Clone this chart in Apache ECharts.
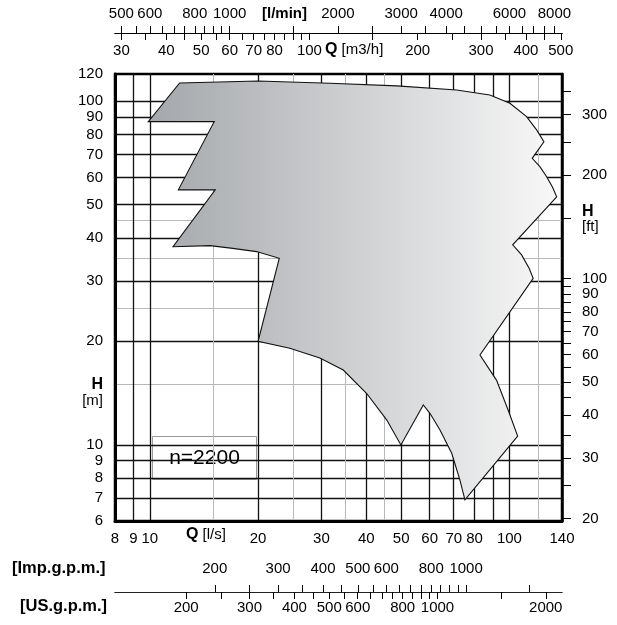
<!DOCTYPE html>
<html><head><meta charset="utf-8">
<script src="https://cdn.jsdelivr.net/npm/echarts@6/dist/echarts.min.js"></script>
<style>html,body{margin:0;padding:0;background:#fff}#c{width:617px;height:625px}</style>
</head><body><div id="c"></div>
<script>
// ---- data: pump performance range outline (Q in l/s, H in m) ----
const shapeQ = [12.1, 20.0, 31.7, 48.6, 71.3, 88.2, 100.3, 111.6, 119.0, 124.7,
  115.7, 121.5, 126.9, 131.8, 135.3, 102.1, 108.1, 113.5, 116.4, 82.8,
  92.1, 99.2, 105.4, 75.2, 72.8, 69.1, 64.1, 60.1, 57.6, 49.9,
  45.6, 40.1, 34.5, 29.7, 24.5, 20.0, 22.9, 19.8, 17.0, 14.7,
  11.6, 15.2, 12.0, 15.1, 9.9];
const shapeH = [113, 114.5, 112.8, 110.8, 107.8, 104.3, 98.6, 90.2, 82.5, 76.2,
  68.2, 64.5, 60.3, 56.2, 52.7, 38.2, 35.7, 32.6, 30.5, 18.25,
  15.4, 12.6, 10.6, 6.91, 7.9, 9.45, 11.04, 12.35, 13.06, 9.99,
  11.8, 14.1, 16.5, 17.9, 19.1, 20.0, 34.9, 36.5, 37.3, 38.0,
  37.7, 55.2, 55.2, 87.2, 87.2];
const speedLabel = 'n=2200';

// ---- axes ----
const qMin = 8, qMax = 140;       // l/s
const hMin = 6, hMax = 120;       // m
const LMIN_PER_LS = 60, M3H_PER_LS = 3.6, IMP_PER_LS = 13.198, US_PER_LS = 15.850, M_PER_FT = 0.3048;

const qLsLabels = [8, 9, 10, 20, 30, 40, 50, 60, 70, 80, 100, 140];
const qLsMajor  = [9, 10, 20, 30, 40, 50, 60, 70, 80, 90, 100];
const qLsMinor  = [15, 25, 35, 45, 120];
const hMLabels  = [6, 7, 8, 9, 10, 20, 30, 40, 50, 60, 70, 80, 90, 100, 120];
const hMMajor   = [7, 8, 9, 10, 20, 30, 40, 50, 60, 70, 80, 90, 100];
const hMMinor   = [15, 25, 35, 45];
const hFtLabels = [20, 30, 40, 50, 60, 70, 80, 90, 100, 200, 300];
const hFtTicks  = [20, 25, 30, 35, 40, 45, 50, 55, 60, 65, 70, 75, 80, 85, 90, 95, 100, 150, 200, 250, 300, 350];
const lminLabels = [500, 600, 800, 1000, 2000, 3000, 4000, 6000, 8000];
const lminTicks  = [500, 550, 600, 650, 700, 750, 800, 850, 900, 950, 1000, 1500, 2000, 2500, 3000, 3500, 4000, 4500, 5000, 5500, 6000, 6500, 7000, 7500, 8000];
const m3hLabels  = [30, 40, 50, 60, 70, 80, 100, 200, 300, 400, 500];
const m3hTicks   = [30, 35, 40, 45, 50, 55, 60, 65, 70, 75, 80, 85, 90, 95, 100, 150, 200, 250, 300, 350, 400, 450, 500];
const impLabels  = [200, 300, 400, 500, 600, 800, 1000];
const impTicks   = [200, 250, 300, 350, 400, 450, 500, 550, 600, 650, 700, 750, 800, 850, 900, 950, 1000, 1500];
const usLabels   = [200, 300, 400, 500, 600, 800, 1000, 2000];
const usTicks    = [200, 250, 300, 350, 400, 450, 500, 550, 600, 650, 700, 750, 800, 850, 900, 950, 1000, 1500, 2000];

const FONT = 'Liberation Sans, Arial, sans-serif';
const FS = 15;
const BLACK = '#000';
const GRID_DARK = '#111';
const GRAY = '#b8b8b8';
const plain = v => String(Math.round(v));
const lbl = (extra) => Object.assign({fontFamily: FONT, fontSize: FS, color: BLACK, formatter: plain}, extra || {});
const hidden = {axisLine: {show: false}, axisLabel: {show: false}};

const chart = echarts.init(document.getElementById('c'), null, {renderer: 'canvas'});
const option = {
  animation: false,
  backgroundColor: '#fff',
  grid: [{left: 115, top: 74, width: 447, height: 447, show: true, borderColor: BLACK, borderWidth: 2.5, backgroundColor: 'transparent'}],
  xAxis: [
    { // l/s main
      type: 'log', gridIndex: 0, min: qMin, max: qMax, position: 'bottom',
      axisLine: {show: true, onZero: false, lineStyle: {color: BLACK, width: 3}},
      axisTick: {show: false, customValues: qLsMajor},
      axisLabel: lbl({customValues: qLsLabels, margin: 10}),
      splitLine: {show: true, lineStyle: {width: 1.3, color: GRID_DARK}},
      z: 3
    },
    { // l/min
      type: 'log', gridIndex: 0, min: qMin * LMIN_PER_LS, max: qMax * LMIN_PER_LS, position: 'top', offset: 41,
      axisLine: {show: true, onZero: false, lineStyle: {color: BLACK, width: 1}},
      axisTick: {show: true, inside: false, length: 7, customValues: lminTicks, lineStyle: {color: BLACK}},
      axisLabel: lbl({customValues: lminLabels, margin: 12}),
      splitLine: {show: false}
    },
    { // m3/h
      type: 'log', gridIndex: 0, min: qMin * M3H_PER_LS, max: qMax * M3H_PER_LS, position: 'top', offset: 41,
      axisLine: {show: true, onZero: false, lineStyle: {color: BLACK, width: 1}},
      axisTick: {show: true, inside: true, length: 7, customValues: m3hTicks, lineStyle: {color: BLACK}},
      axisLabel: lbl({customValues: m3hLabels, inside: true, margin: 10}),
      splitLine: {show: false}
    },
    { // Imp gpm
      type: 'log', gridIndex: 0, min: qMin * IMP_PER_LS, max: qMax * IMP_PER_LS, position: 'bottom', offset: 71,
      axisLine: {show: true, onZero: false, lineStyle: {color: '#222', width: 1}},
      axisTick: {show: true, inside: true, length: 7, customValues: impTicks, lineStyle: {color: BLACK}},
      axisLabel: lbl({customValues: impLabels, inside: true, margin: 16}),
      splitLine: {show: false}
    },
    { // US gpm
      type: 'log', gridIndex: 0, min: qMin * US_PER_LS, max: qMax * US_PER_LS, position: 'bottom', offset: 71,
      axisLine: {show: true, onZero: false, lineStyle: {color: '#222', width: 1}},
      axisTick: {show: true, inside: false, length: 7, customValues: usTicks, lineStyle: {color: BLACK}},
      axisLabel: lbl({customValues: usLabels, margin: 8}),
      splitLine: {show: false}
    },
    Object.assign({ // l/s minor (gray) grid lines
      type: 'log', gridIndex: 0, min: qMin, max: qMax, position: 'bottom',
      axisTick: {show: false, customValues: qLsMinor},
      splitLine: {show: true, lineStyle: {width: 1, color: GRAY}}
    }, hidden)
  ],
  yAxis: [
    { // m
      type: 'log', gridIndex: 0, min: hMin, max: hMax, position: 'left',
      axisLine: {show: true, onZero: false, lineStyle: {color: BLACK, width: 3}},
      axisTick: {show: false, customValues: hMMajor},
      axisLabel: lbl({customValues: hMLabels, margin: 12}),
      splitLine: {show: true, lineStyle: {width: 1.3, color: GRID_DARK}}
    },
    { // ft
      type: 'log', gridIndex: 0, min: hMin / M_PER_FT, max: hMax / M_PER_FT, position: 'right',
      axisLine: {show: true, onZero: false, lineStyle: {color: BLACK, width: 2.5}},
      axisTick: {show: true, inside: false, length: 9, customValues: hFtTicks, lineStyle: {color: BLACK}},
      axisLabel: lbl({customValues: hFtLabels, margin: 20}),
      splitLine: {show: false}
    },
    Object.assign({ // m minor (gray) grid lines
      type: 'log', gridIndex: 0, min: hMin, max: hMax, position: 'left',
      axisTick: {show: false, customValues: hMMinor},
      splitLine: {show: true, lineStyle: {width: 1, color: GRAY}}
    }, hidden)
  ],
  series: [{
    type: 'custom',
    coordinateSystem: 'cartesian2d',
    xAxisIndex: 0, yAxisIndex: 0,
    data: shapeQ.map((q, i) => [q, shapeH[i]]),
    renderItem: function (params, api) {
      if (params.dataIndex !== 0) return null;
      const pts = shapeQ.map((q, i) => api.coord([q, shapeH[i]]));
      return {
        type: 'polygon',
        shape: {points: pts},
        style: {
          fill: new echarts.graphic.LinearGradient(0, 0, 1, 0, [
            {offset: 0, color: '#a4a7ab'}, {offset: 1, color: '#f8f8f8'}
          ]),
          stroke: '#111', lineWidth: 1.1
        }
      };
    },
    z: 5
  }],
  graphic: [
    {type: 'text', left: 262, top: 6, style: {text: '[l/min]', font: 'bold 15px ' + FONT, fill: BLACK}},
    {type: 'text', left: 325, top: 42, style: {text: '{b|Q} [m3/h]', font: '15px ' + FONT, fill: BLACK,
      rich: {b: {fontWeight: 'bold', fontSize: 16, fontFamily: FONT}}}},
    {type: 'text', left: 186, top: 527, style: {text: '{b|Q} [l/s]', font: '15px ' + FONT, fill: BLACK,
      rich: {b: {fontWeight: 'bold', fontSize: 16, fontFamily: FONT}}}},
    {type: 'text', right: 617 - 103, top: 377, style: {text: 'H', font: 'bold 16px ' + FONT, fill: BLACK, align: 'right'}},
    {type: 'text', right: 617 - 103, top: 393, style: {text: '[m]', font: '15px ' + FONT, fill: BLACK, align: 'right'}},
    {type: 'text', left: 582, top: 204, style: {text: 'H', font: 'bold 16px ' + FONT, fill: BLACK}},
    {type: 'text', left: 582, top: 219, style: {text: '[ft]', font: '15px ' + FONT, fill: BLACK}},
    {type: 'text', left: 12, top: 560, style: {text: '[Imp.g.p.m.]', font: 'bold 16.5px ' + FONT, fill: BLACK}},
    {type: 'text', left: 20, top: 598, style: {text: '[US.g.p.m.]', font: 'bold 16.5px ' + FONT, fill: BLACK}},
    {type: 'group', left: 152, top: 436, children: [
      {type: 'rect', shape: {x: 0, y: 0, width: 104, height: 43}, style: {fill: '#fff', stroke: '#999', lineWidth: 1}},
      {type: 'text', x: 52, y: 22, style: {text: speedLabel, font: '21px ' + FONT, fill: BLACK, align: 'center', verticalAlign: 'middle'}}
    ]}
  ]
};
chart.setOption(option);
</script></body></html>
